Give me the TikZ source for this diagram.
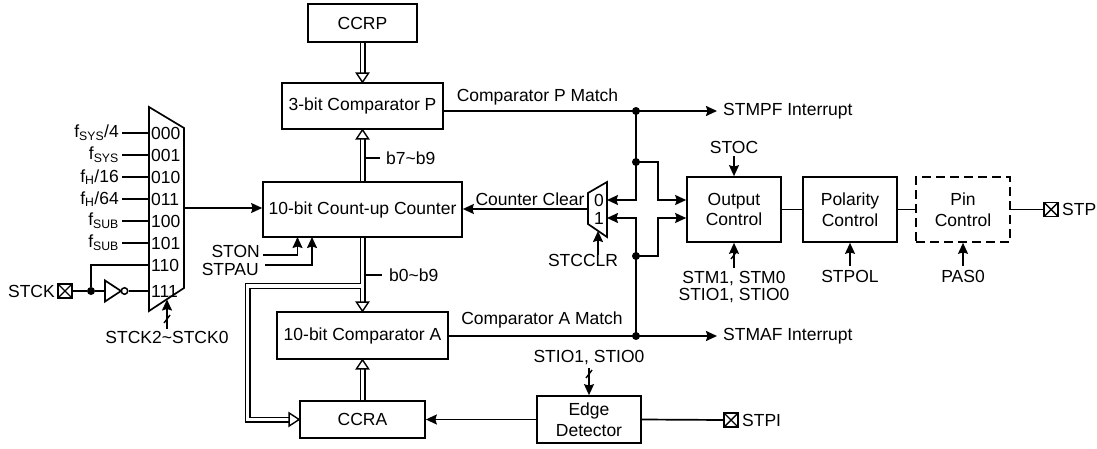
\documentclass[tikz,border=0pt]{standalone}
\usepackage{fontspec}
\setmainfont{Liberation Sans}
\usetikzlibrary{arrows.meta,backgrounds}
\begin{document}
\begin{tikzpicture}[x=1pt,y=-1pt,
  font=\fontsize{17.5}{20.5}\selectfont,
  wire/.style={line width=1.7pt},
  arr/.style={wire,-{Stealth[length=11pt,width=10pt,inset=1.5pt]}},
  blk/.style={draw,line width=1.7pt,rectangle,inner sep=0pt,align=center},
  txt/.style={inner sep=0pt},
  bus/.style={double,double distance=3.2pt,line width=1.4pt,line join=miter},
  hhead/.style={draw,fill=white,line width=1.4pt,line join=miter},
  pad/.style={draw,line width=1.6pt,minimum size=14pt,inner sep=0pt,
    path picture={\draw[line width=1.4pt] (path picture bounding box.north west) -- (path picture bounding box.south east)
      (path picture bounding box.south west) -- (path picture bounding box.north east);}},
  dotn/.style={circle,fill,minimum size=8pt,inner sep=0pt},
  tickmark/.style={line width=1.4pt}]
\useasboundingbox (0,0) rectangle (1097,449);

% ---------- blocks ----------
\node[blk,minimum width=109pt,minimum height=38pt] (ccrp) at (362.5,23) {CCRP};
\node[blk,minimum width=161pt,minimum height=46pt] (cmpp) at (362.5,106) {3-bit Comparator P};
\node[blk,minimum width=199pt,minimum height=55pt] (cnt) at (362.5,209.5) {10-bit Count-up Counter};
\node[blk,minimum width=171pt,minimum height=47pt] (cmpa) at (362.5,335.5) {10-bit Comparator A};
\node[blk,minimum width=125pt,minimum height=37pt] (ccra) at (362.5,419.5) {CCRA};
\node[blk,minimum width=104pt,minimum height=47pt] (edge) at (589,419.5) {Edge\\Detector};
\node[blk,minimum width=94pt,minimum height=65pt] (oc) at (734,209.5) {Output\\Control};
\node[blk,minimum width=94pt,minimum height=65pt] (pol) at (850,209.5) {Polarity\\Control};
\node[blk,dash pattern=on 9pt off 5pt,minimum width=94pt,minimum height=65pt] (pin) at (963,209.5) {Pin\\Control};

% ---------- buses ----------
\begin{scope}[on background layer]
  \draw[bus] (ccrp.south) -- ([yshift=9pt]cmpp.north);
  \draw[hhead] (cmpp.north) -- ++(-6,-9) -- ++(12,0) -- cycle;
  \draw[bus] (cnt.north) -- ([yshift=-9pt]cmpp.south);
  \draw[hhead] (cmpp.south) -- ++(-6,9) -- ++(12,0) -- cycle;
  \draw[bus] (cnt.south) -- ([yshift=9pt]cmpa.north);
  \draw[hhead] (cmpa.north) -- ++(-6,-9) -- ++(12,0) -- cycle;
  \draw[bus] (ccra.north) -- ([yshift=-9pt]cmpa.south);
  \draw[hhead] (cmpa.south) -- ++(-6,9) -- ++(12,0) -- cycle;
  \coordinate (br) at (361,286);
  \coordinate (brc) at (247.5,419.5);
  \draw[bus] (br) -| (brc) -- ([xshift=-10pt]ccra.west);
  \draw[hhead] (ccra.west) -- ++(-10,-6.5) -- ++(0,13) -- cycle;
\end{scope}

% bus labels
\coordinate (t79) at (366,158);
\draw[wire] (t79) -- ++(14,0);
\node[txt,anchor=west] (b79) at (386,158) {b7\textasciitilde b9};
\coordinate (t09) at (366,275);
\draw[wire] (t09) -- ++(16,0);
\node[txt,anchor=west] (b09) at (389,275) {b0\textasciitilde b9};

% ---------- clock multiplexer ----------
\coordinate (m1tl) at (149,107);
\coordinate (m1tr) at (184,128);
\coordinate (m1br) at (184,288);
\coordinate (m1bl) at (149,311);
\draw[wire,line join=miter] (m1tl) -- (m1tr) -- (m1br) -- (m1bl) -- cycle;

\node[txt,anchor=east] (i0) at (119,133) {f\textsubscript{SYS}/4};
\node[txt,anchor=east] (i1) at (119,155) {f\textsubscript{SYS}};
\node[txt,anchor=east] (i2) at (119,177) {f\textsubscript{H}/16};
\node[txt,anchor=east] (i3) at (119,199) {f\textsubscript{H}/64};
\node[txt,anchor=east] (i4) at (119,221) {f\textsubscript{SUB}};
\node[txt,anchor=east] (i5) at (119,243) {f\textsubscript{SUB}};
\foreach \n in {0,...,5}{
  \draw[wire] ([xshift=3pt]i\n.east) -- (i\n.east -| m1tl);
}
\node[txt,anchor=west] (c0) at (151,133) {000};
\node[txt,anchor=west] (c1) at (151,155) {001};
\node[txt,anchor=west] (c2) at (151,177) {010};
\node[txt,anchor=west] (c3) at (151,199) {011};
\node[txt,anchor=west] (c4) at (151,221) {100};
\node[txt,anchor=west] (c5) at (151,243) {101};
\node[txt,anchor=west] (c6) at (151,265) {110};
\node[txt,anchor=west] (c7) at (151,291) {111};

\coordinate (m1out) at (184,208);
\draw[arr] (m1out) -- (cnt.west |- m1out);

% STCK input and inverter
\node[pad] (stckpad) at (65,291) {};
\node[txt,anchor=east] (stck) at (55,291) {STCK};
\node[dotn] (dst) at (91,291) {};
\coordinate (c6in) at (149,265);
\coordinate (c7in) at (149,291);
\coordinate (invl) at (105,291);
\draw[wire] (stckpad.east) -- (dst);
\draw[wire] (dst) |- (c6in);
\draw[wire] (dst) -- (invl);
\draw[wire,line join=miter] (105,280.5) -- (121,291) -- (105,301.5) -- cycle;
\node[circle,draw,line width=1.5pt,minimum size=6.5pt,inner sep=0pt] (bub) at (124.5,291) {};
\draw[wire] (bub.east) -- (c7in);

\coordinate (m1sel) at (167,299.5);
\node[txt] (stcksel) at (167,337) {STCK2\textasciitilde STCK0};
\draw[arr] ([yshift=2pt]stcksel.north) -- (m1sel);
\draw[tickmark] (164,323) -- (170,315);

% STON / STPAU
\node[txt,anchor=east] (ston) at (260,251) {STON};
\node[txt,anchor=east] (stpau) at (259,269) {STPAU};
\coordinate (stonL) at (263,255);
\coordinate (stonU) at (297.5,237);
\coordinate (stpauL) at (265,265);
\coordinate (stpauU) at (312,237);
\draw[arr] (stonL) -| (stonU);
\draw[arr] (stpauL) -| (stpauU);

% ---------- comparator outputs ----------
\coordinate (jp) at (636,111);
\coordinate (ja) at (636,336);
\coordinate (d1) at (636,162);
\coordinate (d2) at (636,256);
\node[txt] (lpm) at (537.5,97) {Comparator P Match};
\node[txt] (lam) at (542,320) {Comparator A Match};
\node[txt,anchor=west] (stmpf) at (723,111) {STMPF Interrupt};
\node[txt,anchor=west] (stmaf) at (723,336) {STMAF Interrupt};
\draw[wire] (cmpp.east |- jp) -- (jp);
\draw[arr] (jp) -- ([xshift=-6pt]stmpf.west);
\draw[wire] (cmpa.east |- ja) -- (ja);
\draw[arr] (ja) -- ([xshift=-6pt]stmaf.west);

% counter clear multiplexer
\coordinate (m2tl) at (588,193);
\coordinate (m2tr) at (607,182);
\coordinate (m2br) at (607,237);
\coordinate (m2bl) at (588,224);
\draw[wire,line join=miter] (m2tl) -- (m2tr) -- (m2br) -- (m2bl) -- cycle;
\node[txt] (z0) at (599,200) {0};
\node[txt] (z1) at (599,218.5) {1};
\coordinate (m2i0) at (607,200);
\coordinate (m2i1) at (607,218);
\coordinate (m2out) at (588,209);
\draw[arr] (m2out) -- (cnt.east |- m2out);
\node[txt] (ccl) at (530,199) {Counter Clear};

\draw[arr] (jp) |- (m2i0);
\draw[arr] (ja) |- (m2i1);
\draw[arr] (d1) -- ++(22,0) |- (oc.west |- m2i0);
\draw[arr] (d2) -- ++(22,0) |- (oc.west |- m2i1);
\node[dotn] (dotjp) at (jp) {};
\node[dotn] (dotja) at (ja) {};
\node[dotn] (dotd1) at (d1) {};
\node[dotn] (dotd2) at (d2) {};

\coordinate (m2sel) at (598,231);
\node[txt] (stcclr) at (583,260) {STCCLR};
\draw[arr] ([yshift=-1pt]stcclr.north -| m2sel) -- (m2sel);

% ---------- output chain ----------
\node[txt] (stoc) at (734,147) {STOC};
\draw[arr] ([yshift=-3pt]stoc.south) -- (oc.north);
\node[txt,align=center,font=\fontsize{17.5}{17.5}\selectfont] (stm) at (734,287) {STM1, STM0\\STIO1, STIO0};
\draw[arr] ([yshift=3pt]stm.north) -- (oc.south);
\draw[tickmark] (731,259) -- (737,251);

\draw[wire] (oc.east) -- (pol.west);
\draw[wire] (pol.east) -- (pin.west);
\node[pad] (stppad) at (1051,209.5) {};
\node[txt,anchor=west] (stp) at (1062,209.5) {STP};
\draw[wire] (pin.east) -- (stppad.west);

\node[txt] (stpol) at (850,276) {STPOL};
\draw[arr] ([yshift=4pt]stpol.north) -- (pol.south);
\node[txt] (pas0) at (963,276) {PAS0};
\draw[arr] ([yshift=4pt]pas0.north) -- (pin.south);

% ---------- capture path ----------
\node[txt] (stio) at (589,358) {STIO1, STIO0};
\draw[arr] ([yshift=-3pt]stio.south) -- (edge.north);
\draw[tickmark] (586,378) -- (592,370);
\draw[arr] (edge.west) -- (ccra.east);
\node[pad] (stpipad) at (731,420) {};
\node[txt,anchor=west] (stpi) at (742,420) {STPI};
\draw[wire] (edge.east) -- (stpipad.west);
\end{tikzpicture}
\end{document}
